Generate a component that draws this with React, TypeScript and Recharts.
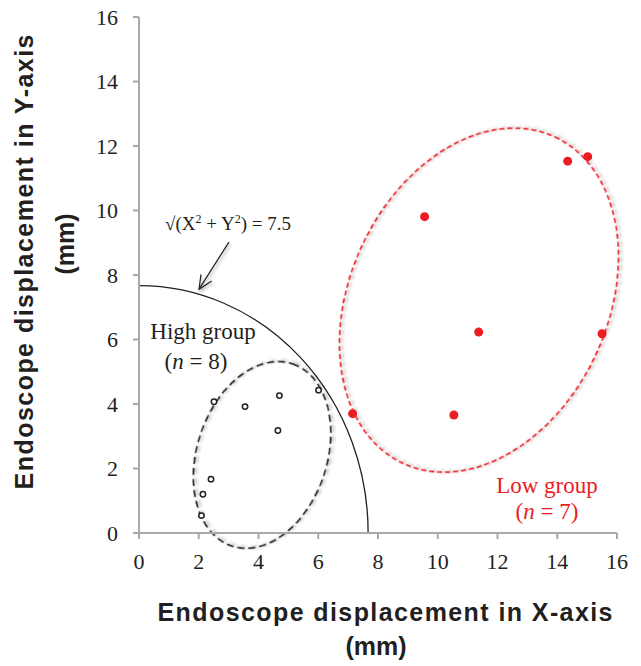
import { ScatterChart, Scatter, XAxis, YAxis, ReferenceArea } from "recharts";

// axis ticks (mm)
const axisTicks = [0, 2, 4, 6, 8, 10, 12, 14, 16];

// high group (n = 8), open circles
const highX = [2.51, 3.55, 4.7, 6.01, 4.65, 2.41, 2.14, 2.09];
const highY = [4.07, 3.92, 4.26, 4.43, 3.18, 1.67, 1.2, 0.54];

// low group (n = 7), red dots
const lowX = [14.35, 15.02, 9.56, 11.37, 15.5, 7.15, 10.54];
const lowY = [11.53, 11.67, 9.81, 6.23, 6.18, 3.7, 3.66];

// radius of the threshold arc as drawn
const arcRadius = 7.67;

const highData = highX.map((x, i) => ({ x, y: highY[i] }));
const lowData = lowX.map((x, i) => ({ x, y: lowY[i] }));

const SERIF = '"Liberation Serif", "Times New Roman", serif';
const SANS = '"Liberation Sans", Arial, sans-serif';
const INK = "#231f20";
const AXIS = "#a7a9ac";
const RED = "#ec1c24";

// group outlines: centre in data units, semi-axes in px, tilt in degrees
const outlines = [
  { cx: 4.12, cy: 2.42, a: 96, b: 65, angle: 71.6, color: INK, dash: "7 4" },
  { cx: 11.38, cy: 7.22, a: 180, b: 129, angle: 65, color: RED, dash: "5 3" },
];

function Overlay(props: any) {
  const { x, y, width, height } = props;
  const sx = (v: number) => x + (v / 16) * width;
  const sy = (v: number) => y + height - (v / 16) * height;

  const rx = (arcRadius / 16) * width;
  const ry = (arcRadius / 16) * height;
  const ox = sx(0);
  const oy = sy(0);
  const arc = `M ${ox} ${oy - ry} A ${rx} ${ry} 0 0 1 ${ox + rx} ${oy}`;

  // arrow pointing at the arc
  const ax1 = sx(3.01);
  const ay1 = sy(9.02);
  const ax2 = sx(2.01);
  const ay2 = sy(7.56);
  const len = Math.hypot(ax2 - ax1, ay2 - ay1);
  const ux = (ax2 - ax1) / len;
  const uy = (ay2 - ay1) / len;
  const head = (deg: number) => {
    const r = (deg * Math.PI) / 180;
    const hx = -ux * Math.cos(r) + uy * Math.sin(r);
    const hy = -uy * Math.cos(r) - ux * Math.sin(r);
    return `${ax2 + hx * 15},${ay2 + hy * 15}`;
  };

  const title = { fontFamily: SANS, fontWeight: 700, fontSize: 25, fill: INK, textAnchor: "middle" as const };

  return (
    <g>
      <defs>
        <filter id="soft" x="-20%" y="-20%" width="140%" height="140%">
          <feDropShadow dx="1.5" dy="2" stdDeviation="1.5" floodColor="#000" floodOpacity="0.35" />
        </filter>
      </defs>
      <path d={arc} fill="none" stroke={INK} strokeWidth={1.3} />
      {outlines.map((o, i) => (
        <ellipse
          key={i}
          cx={sx(o.cx)}
          cy={sy(o.cy)}
          rx={o.a}
          ry={o.b}
          transform={`rotate(${-o.angle} ${sx(o.cx)} ${sy(o.cy)})`}
          fill="none"
          stroke={o.color}
          strokeWidth={1.6}
          strokeDasharray={o.dash}
          filter="url(#soft)"
        />
      ))}
      <g filter="url(#soft)" stroke={INK} strokeWidth={1.2} fill="none">
        <line x1={ax1} y1={ay1} x2={ax2} y2={ay2} />
        <polyline points={`${head(25)} ${ax2},${ay2} ${head(-25)}`} />
      </g>

      <text x={165} y={230} fontFamily={SERIF} fontSize={19} fill={INK}>
        √(X<tspan dy={-7} fontSize={12}>2</tspan>
        <tspan dy={7}> + Y</tspan>
        <tspan dy={-7} fontSize={12}>2</tspan>
        <tspan dy={7}>) = 7.5</tspan>
      </text>

      <text fontFamily={SERIF} fontSize={23} fill={INK} textAnchor="middle">
        <tspan x={203} y={339}>High group</tspan>
        <tspan x={196} y={369}>
          (<tspan fontStyle="italic">n</tspan> = 8)
        </tspan>
      </text>
      <text fontFamily={SERIF} fontSize={23} fill={RED} textAnchor="middle">
        <tspan x={547} y={493}>Low group</tspan>
        <tspan x={547} y={519}>
          (<tspan fontStyle="italic">n</tspan> = 7)
        </tspan>
      </text>

      <text x={385} y={621} textLength={455} lengthAdjust="spacing" {...title}>
        Endoscope displacement in X-axis
      </text>
      <text x={376} y={655} {...title}>
        (mm)
      </text>
      <text transform="translate(33 262) rotate(-90)" textLength={455} lengthAdjust="spacing" {...title}>
        Endoscope displacement in Y-axis
      </text>
      <text transform="translate(74 244) rotate(-90)" {...title}>
        (mm)
      </text>
    </g>
  );
}

const OpenDot = (p: any) => (
  <circle cx={p.cx} cy={p.cy} r={2.7} fill="#fff" stroke={INK} strokeWidth={1.5} />
);
const RedDot = (p: any) => <circle cx={p.cx} cy={p.cy} r={4.5} fill={RED} />;

export default function App() {
  const tick = { fontFamily: SERIF, fontSize: 22, fill: INK };
  return (
    <div style={{ position: "absolute", left: 0, top: 0 }}>
      <ScatterChart width={641} height={666} margin={{ top: 17, right: 24, left: 39, bottom: 93 }}>
        <XAxis
          type="number"
          dataKey="x"
          domain={[0, 16]}
          ticks={axisTicks}
          height={40}
          tick={tick}
          tickSize={6}
          tickMargin={14}
          stroke={AXIS}
          axisLine={{ stroke: AXIS, strokeWidth: 2 }}
          tickLine={{ stroke: AXIS, strokeWidth: 2 }}
        />
        <YAxis
          type="number"
          dataKey="y"
          domain={[0, 16]}
          ticks={axisTicks}
          width={100}
          tick={tick}
          tickSize={6}
          tickMargin={15}
          stroke={AXIS}
          axisLine={{ stroke: AXIS, strokeWidth: 2 }}
          tickLine={{ stroke: AXIS, strokeWidth: 2 }}
        />
        <ReferenceArea x1={0} x2={16} y1={0} y2={16} shape={Overlay} />
        <Scatter data={highData} shape={OpenDot} isAnimationActive={false} />
        <Scatter data={lowData} shape={RedDot} isAnimationActive={false} />
      </ScatterChart>
    </div>
  );
}
